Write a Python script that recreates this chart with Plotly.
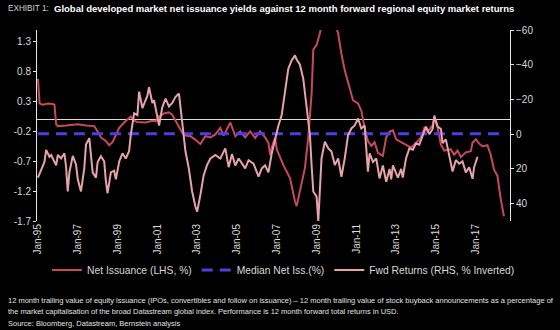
import plotly.graph_objects as go

# ---- Data ----
iss_dates = ["1995-01","1995-02","1995-04","1995-07","1995-10","1995-11","1995-12","1996-01","1996-06","1996-10",
             "1997-01","1997-06","1997-11","1998-01","1998-03","1998-06","1998-08","1998-10","1998-12","1999-02",
             "1999-05","1999-07","1999-09","1999-11","2000-01","2000-06","2000-10","2000-12","2001-02","2001-05",
             "2001-08","2001-10","2001-12","2002-02","2002-04","2002-06","2002-09","2002-12","2003-03","2003-06",
             "2003-09","2003-12","2004-03","2004-05","2004-09","2004-12","2005-03","2005-06","2005-09","2005-12",
             "2006-03","2006-06","2006-08","2006-09","2006-10","2006-12","2007-01","2007-05","2007-09","2007-12",
             "2008-01","2008-03","2008-06","2008-08","2008-10","2008-11","2009-01","2009-03","2009-05","2009-08",
             "2009-11","2010-02","2010-04","2010-06","2010-09","2010-11","2011-02","2011-04","2011-06","2011-08",
             "2011-10","2011-12","2012-02","2012-05","2012-07","2012-09","2012-11","2013-01","2013-04","2013-07",
             "2013-10","2014-01","2014-04","2014-06","2014-08","2014-11","2014-12","2015-02","2015-04","2015-06",
             "2015-10","2015-12","2016-02","2016-04","2016-07","2016-10","2016-11","2017-01","2017-03","2017-05",
             "2017-08","2017-10","2017-12","2018-02","2018-04","2018-06"]
net_issuance = [0.68,0.27,0.25,0.27,0.26,0.25,-0.08,-0.11,-0.10,-0.09,
                -0.08,-0.10,-0.11,-0.20,-0.30,-0.36,-0.43,-0.38,-0.25,-0.14,
                -0.05,0.00,0.05,-0.02,-0.04,-0.05,-0.02,-0.03,0.05,0.10,
                0.12,0.08,-0.03,-0.14,-0.22,-0.27,-0.28,-0.34,-0.41,-0.28,
                -0.30,-0.25,-0.14,-0.27,-0.05,-0.28,-0.20,-0.30,-0.20,-0.31,
                -0.20,-0.30,-0.39,-0.59,-0.47,-0.30,-0.50,-0.76,-0.98,-1.37,
                -1.45,-1.20,-0.81,-0.30,0.43,1.17,1.25,1.44,1.70,1.90,
                1.70,1.44,1.10,0.83,0.51,0.32,0.27,0.15,-0.14,-0.36,
                -0.44,-0.38,-0.56,-0.61,-0.30,-0.20,-0.18,-0.33,-0.38,-0.42,
                -0.47,-0.39,-0.30,-0.14,-0.20,-0.10,0.03,-0.14,-0.42,-0.52,
                -0.50,-0.59,-0.52,-0.63,-0.55,-0.53,-0.39,-0.33,-0.40,-0.45,
                -0.43,-0.59,-0.84,-0.94,-1.32,-1.62]

median_dates = ["1995-01", "2018-03"]
median_net_iss = [-0.24, -0.24]

ret_dates = ["1995-01","1995-03","1995-05","1995-06","1995-08","1995-09","1995-12","1996-01","1996-03","1996-05",
             "1996-06","1996-07","1996-08","1996-10","1996-12","1997-01","1997-03","1997-05","1997-06","1997-08",
             "1997-09","1997-10","1997-12","1998-01","1998-03","1998-05","1998-06","1998-07","1998-09","1998-11",
             "1998-12","1999-02","1999-04","1999-06","1999-08","1999-09","1999-11","2000-01","2000-02","2000-04",
             "2000-06","2000-07","2000-08","2000-10","2000-11","2000-12","2001-02","2001-04","2001-06","2001-08",
             "2001-10","2001-12","2002-02","2002-04","2002-06","2002-08","2002-10","2002-12","2003-01","2003-03",
             "2003-05","2003-07","2003-09","2003-12","2004-03","2004-06","2004-08","2004-10","2004-12","2005-02",
             "2005-04","2005-06","2005-08","2005-11","2006-02","2006-04","2006-06","2006-08","2006-10","2006-12",
             "2007-02","2007-04","2007-06","2007-08","2007-10","2007-12","2008-01","2008-03","2008-05","2008-07",
             "2008-09","2008-10","2008-11","2009-01","2009-02","2009-03","2009-04","2009-06","2009-08","2009-10",
             "2009-12","2010-02","2010-04","2010-06","2010-08","2010-10","2010-12","2011-02","2011-04","2011-06",
             "2011-08","2011-09","2011-11","2012-01","2012-03","2012-05","2012-07","2012-09","2012-10","2012-11",
             "2013-01","2013-02","2013-04","2013-05","2013-07","2013-09","2013-11","2014-01","2014-03","2014-05",
             "2014-07","2014-09","2014-11","2014-12","2015-02","2015-04","2015-05","2015-07","2015-09","2015-11",
             "2016-01","2016-03","2016-05","2016-07","2016-09","2016-11","2016-12","2017-01","2017-02"]
fwd_returns = [25,21,16,9,13,12,18,12,14,11,
               19,33,22,12.5,17.6,26,33,19.5,6,2.3,
               12,22,25,16,12.7,15.7,27,34,22,21,
               26,15.7,11,14,9.8,0.4,-12,-11,-24.5,-15,
               -19.7,-22,-27,-18,-19.5,-14,-5,-15.5,-20.5,-16,
               -18,-21.5,-23.4,-7,10,19.7,33,41.8,44.6,35,
               23.6,17.8,14,12,14,8.2,19,11.5,18,14,
               17,19.7,15,17,24.5,19.7,18,22,11,2.5,
               -5,-11,-24,-37.7,-42.5,-45.4,-43,-40,-32,-16.7,
               0.6,17.8,33,36,50,33,14,4.4,8,10,
               17.8,14,24.5,14,0.6,-3.3,-5,-9,-3.3,-5,
               21.6,11,16,14,25.5,18,27.4,20,26,18,
               22,25,20,25,13.8,8,9,5.2,6,0.4,
               -4.4,0,-3,-10.7,-4.4,-3,5.2,3,11.9,21.5,
               14.9,17,15.7,22,19,25.7,19,15.7,13]

left_ticks = [-1.7, -1.2, -0.7, -0.2, 0.3, 0.8, 1.3]
right_ticks = [-60, -40, -20, 0, 20, 40]
x_ticks = ["1995-01","1997-01","1999-01","2001-01","2003-01","2005-01","2007-01",
           "2009-01","2011-01","2013-01","2015-01","2017-01"]

title_prefix = "EXHIBIT 1:"
title_main = ("Global developed market net issuance yields against "
              "12 month forward regional equity market returns")
foot_lines = [
    "12 month trailing value of equity issuance (IPOs, convertibles and follow on issuance) \u2013 12 month trailing value of stock buyback announcements as a percentage of",
    "the market capitalisation of the broad Datastream global index. Performance is 12 month forward total returns in USD.",
    "Source: Bloomberg, Datastream, Bernstein analysis",
]

RED = "#c8485c"
PINK = "#e6a3aa"
BLUE = "#4b3fe0"
TXT = "#d9d9d9"
FONT = "Liberation Sans, Arial, sans-serif"

fig = go.Figure()
fig.add_trace(go.Scatter(x=iss_dates, y=net_issuance, name="Net Issuance (LHS, %)",
                         mode="lines", line=dict(color=RED, width=2), yaxis="y"))
fig.add_trace(go.Scatter(x=median_dates, y=median_net_iss, name="Median Net Iss.(%)",
                         mode="lines", line=dict(color=BLUE, width=3, dash="11px,7px"), yaxis="y"))
fig.add_trace(go.Scatter(x=ret_dates, y=fwd_returns, name="Fwd Returns (RHS, % Inverted)",
                         mode="lines", line=dict(color=PINK, width=2), yaxis="y2"))

L, R, T, B = 37, 50, 30, 109
W, H = 560, 330
pw, ph = W - L - R, H - T - B

def px_x(px):
    return (px - L) / pw

def px_y(py):
    return (H - B - py) / ph

fig.update_layout(
    width=W, height=H,
    margin=dict(l=L, r=R, t=T, b=B),
    paper_bgcolor="black", plot_bgcolor="black",
    font=dict(family=FONT, color=TXT, size=10),
    showlegend=True,
    legend=dict(orientation="h", x=px_x(47), y=px_y(270), xanchor="left", yanchor="middle",
                font=dict(size=10.3, color=TXT), bgcolor="rgba(0,0,0,0)",
                itemwidth=30, tracegroupgap=0),
    xaxis=dict(type="date", range=["1994-12-15", "2018-09-20"],
               tickvals=x_ticks, tickformat="%b-%y", tickangle=-90,
               showgrid=False, showline=False, zeroline=False, ticks="",
               tickfont=dict(size=10, color=TXT)),
    yaxis=dict(range=[-1.7, 1.5], tickvals=left_ticks, ticktext=[f"{v:.1f}" for v in left_ticks],
               showgrid=False, showline=True, linecolor="#e6e6e6", linewidth=1,
               ticks="outside", ticklen=3, tickcolor="#e6e6e6",
               zeroline=True, zerolinecolor="#dcdcdc", zerolinewidth=1.2,
               tickfont=dict(size=10, color=TXT)),
    yaxis2=dict(range=[50, -60], overlaying="y", side="right", tickvals=right_ticks,
                showgrid=False, showline=True, linecolor="#e6e6e6", linewidth=1,
                ticks="outside", ticklen=3, tickcolor="#e6e6e6", zeroline=False,
                tickfont=dict(size=10, color=TXT)),
)

fig.add_annotation(text=title_prefix, xref="paper", yref="paper", x=px_x(6), y=px_y(9),
                   xanchor="left", yanchor="middle", showarrow=False,
                   font=dict(family=FONT, size=8.2, color="#d0d0d0"))
fig.add_annotation(text="<b>" + title_main + "</b>", xref="paper", yref="paper", x=px_x(52), y=px_y(9),
                   xanchor="left", yanchor="middle", showarrow=False,
                   font=dict(family=FONT, size=9.5, color="white"))
for i, line in enumerate(foot_lines):
    fig.add_annotation(text=line, xref="paper", yref="paper", x=px_x(6), y=px_y(300 + 11.5 * i),
                       xanchor="left", yanchor="middle", showarrow=False,
                       font=dict(family=FONT, size=7.5, color="#e0e0e0"))

fig.write_html("out.html")
